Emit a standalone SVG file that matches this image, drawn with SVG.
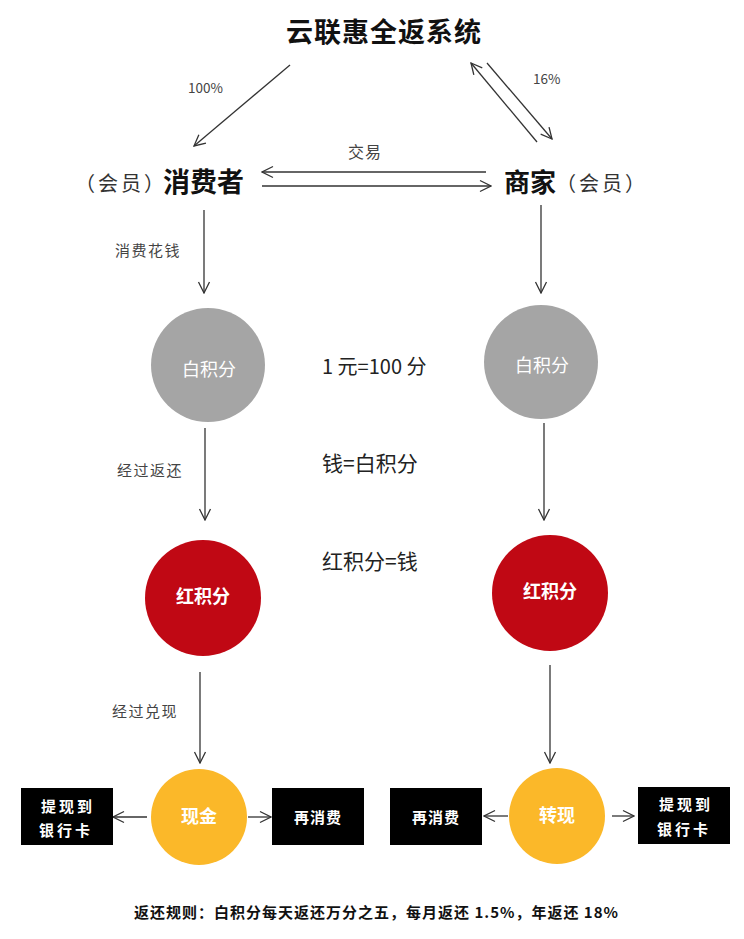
<svg xmlns="http://www.w3.org/2000/svg" width="744" height="939" viewBox="0 0 744 939">
<defs>
<style>
text{font-family:"Noto Sans CJK SC","Liberation Sans",sans-serif;}
.lbl{font-size:15px;fill:#444;letter-spacing:1.5px;}
.pct{font-size:13.5px;fill:#444;}
.mid{font-size:20px;fill:#222;}
.ctext{font-size:18px;fill:#fff;text-anchor:middle;}
.btext{font-size:15px;fill:#fff;font-weight:bold;text-anchor:middle;letter-spacing:3px;}
.member{font-size:20px;fill:#333;letter-spacing:3px;}
.conn{stroke:#333;stroke-width:1.3;fill:none;marker-end:url(#arr);}
.gray{fill:#a5a5a5;}
.red{fill:#c00814;}
.yel{fill:#fbb829;}
.box{fill:#000;}
</style>
<marker id="arr" viewBox="0 0 14 14" refX="13" refY="7" markerWidth="14" markerHeight="14" orient="auto" markerUnits="userSpaceOnUse">
<path d="M2,1.5 L13,7 L2,12.5" fill="none" stroke="#333" stroke-width="1.3"/>
</marker>
</defs>
<rect width="744" height="939" fill="#fff"/>

<g id="title">
<text x="384" y="42" font-size="27" font-weight="bold" text-anchor="middle" letter-spacing="1" fill="#111">云联惠全返系统</text>
</g>

<g id="consumer">
<text class="member" x="75" y="191">（会员）</text>
<text x="163" y="192" font-size="27" font-weight="bold" fill="#111">消费者</text>
</g>

<g id="merchant">
<text x="504" y="192" font-size="26" font-weight="bold" fill="#111">商家</text>
<text class="member" x="556" y="191">（会员）</text>
</g>

<g id="connectors">
<line class="conn" x1="290" y1="65" x2="194" y2="146"/>
<line class="conn" x1="537" y1="142" x2="471" y2="63"/>
<line class="conn" x1="487" y1="63" x2="552" y2="139"/>
<line class="conn" x1="486" y1="172" x2="262" y2="172"/>
<line class="conn" x1="262" y1="186" x2="491" y2="186"/>
<line class="conn" x1="204" y1="210" x2="204" y2="293"/>
<line class="conn" x1="541" y1="205" x2="541" y2="293"/>
<line class="conn" x1="205" y1="428" x2="205" y2="520"/>
<line class="conn" x1="544" y1="423" x2="544" y2="520"/>
<line class="conn" x1="200" y1="672" x2="200" y2="763"/>
<line class="conn" x1="550" y1="665" x2="550" y2="763"/>
<line class="conn" x1="147" y1="817" x2="113" y2="817"/>
<line class="conn" x1="248" y1="817" x2="271" y2="817"/>
<line class="conn" x1="508" y1="816" x2="484" y2="816"/>
<line class="conn" x1="612" y1="816" x2="634" y2="816"/>
</g>

<g id="labels">
<text class="pct" x="188" y="93">100%</text>
<text class="pct" x="533" y="84">16%</text>
<text class="lbl" x="348" y="158" style="font-size:16px;letter-spacing:1px">交易</text>
<text class="lbl" x="115" y="256">消费花钱</text>
<text class="lbl" x="117" y="476">经过返还</text>
<text class="lbl" x="112" y="717">经过兑现</text>
</g>

<g id="notes">
<text class="mid" x="322" y="374">1 元=100 分</text>
<text class="mid" x="322" y="471" style="font-size:21px">钱=白积分</text>
<text class="mid" x="322" y="569" style="font-size:21px">红积分=钱</text>
</g>

<g id="white-left"><circle class="gray" cx="208" cy="365" r="57"/><text class="ctext" x="209" y="376">白积分</text></g>
<g id="white-right"><circle class="gray" cx="541" cy="362" r="57"/><text class="ctext" x="542" y="372">白积分</text></g>
<g id="red-left"><circle class="red" cx="203" cy="598" r="58"/><text class="ctext" x="203" y="603" font-weight="bold">红积分</text></g>
<g id="red-right"><circle class="red" cx="550" cy="593" r="58"/><text class="ctext" x="550" y="598" font-weight="bold">红积分</text></g>
<g id="cash"><circle class="yel" cx="199" cy="817" r="48"/><text class="ctext" x="199" y="823" font-weight="bold">现金</text></g>
<g id="transfer"><circle class="yel" cx="557" cy="816" r="48"/><text class="ctext" x="557" y="822" font-weight="bold">转现</text></g>

<g id="bank-left"><rect class="box" x="21" y="788" width="92" height="57"/><text class="btext" x="68" y="812">提现到</text><text class="btext" x="66" y="836">银行卡</text></g>
<g id="spend-left"><rect class="box" x="272" y="788" width="92" height="57"/><text class="btext" x="318" y="823" style="letter-spacing:1px">再消费</text></g>
<g id="spend-right"><rect class="box" x="390" y="788" width="92" height="57"/><text class="btext" x="436" y="823" style="letter-spacing:1px">再消费</text></g>
<g id="bank-right"><rect class="box" x="638" y="787" width="92" height="57"/><text class="btext" x="686" y="810">提现到</text><text class="btext" x="684" y="835">银行卡</text></g>

<g id="rule">
<text x="134" y="918" font-size="15" font-weight="bold" fill="#111" letter-spacing="1">返还规则：白积分每天返还万分之五，每月返还 1.5%，年返还 18%</text>
</g>
</svg>
